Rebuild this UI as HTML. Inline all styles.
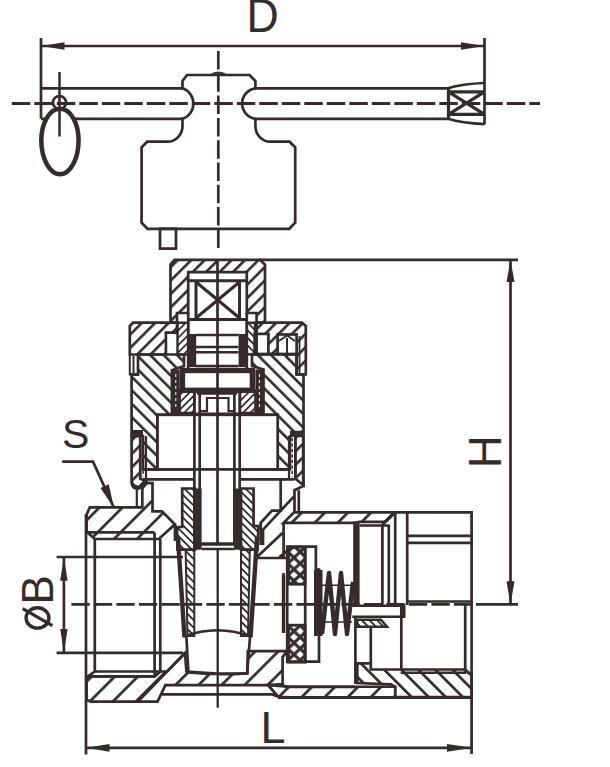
<!DOCTYPE html>
<html><head><meta charset="utf-8">
<style>
html,body{margin:0;padding:0;background:#fff;width:610px;height:767px;overflow:hidden}
svg{display:block}
text{font-family:"Liberation Sans",sans-serif;fill:#342b2a}
</style></head><body>
<svg width="610" height="767" viewBox="0 0 610 767">
<defs>
<pattern id="hf" patternUnits="userSpaceOnUse" x="4.3" width="9.5" height="10" patternTransform="rotate(45)"><rect x="0" y="0" width="2.6" height="10" fill="#342b2a"/></pattern>
<pattern id="hb" patternUnits="userSpaceOnUse" x="5.9" width="9.5" height="10" patternTransform="rotate(-45)"><rect x="0" y="0" width="2.6" height="10" fill="#342b2a"/></pattern>
<pattern id="hfw" patternUnits="userSpaceOnUse" x="4.0" width="16.3" height="10" patternTransform="rotate(45)"><rect x="0" y="0" width="2.7" height="10" fill="#342b2a"/></pattern>
<pattern id="hbw" patternUnits="userSpaceOnUse" x="1.8" width="12.06" height="10" patternTransform="rotate(-45)"><rect x="0" y="0" width="2.7" height="10" fill="#342b2a"/></pattern>
<pattern id="hs" patternUnits="userSpaceOnUse" width="5.2" height="10" patternTransform="rotate(45)"><rect x="0" y="0" width="1.7" height="10" fill="#342b2a"/></pattern>
<pattern id="hbs" patternUnits="userSpaceOnUse" width="5.4" height="10" patternTransform="rotate(-45)"><rect x="0" y="0" width="1.8" height="10" fill="#342b2a"/></pattern>
<pattern id="xh" patternUnits="userSpaceOnUse" width="12.2" height="11.6" x="287.9" y="551.9"><path d="M-1,-0.95 L13.2,12.55 M13.2,-0.95 L-1,12.55" stroke="#342b2a" stroke-width="3.1"/></pattern>
<pattern id="xh2" patternUnits="userSpaceOnUse" width="12.2" height="11.6" x="287.9" y="637.1"><path d="M-1,-0.95 L13.2,12.55 M13.2,-0.95 L-1,12.55" stroke="#342b2a" stroke-width="3.1"/></pattern>
</defs>
<g fill="none" stroke="#342b2a" stroke-width="2.7" stroke-linejoin="miter">
<line x1="41" y1="46" x2="484.5" y2="46" stroke-width="2.7"/>
<polygon points="41,46 64.5,42.3 64.5,49.7" fill="#342b2a" stroke="none"/>
<polygon points="484.5,46 461,42.3 461,49.7" fill="#342b2a" stroke="none"/>
<line x1="41" y1="38" x2="41" y2="118.5"/>
<line x1="484.5" y1="38" x2="484.5" y2="124.5"/>
<path d="M41,88.3 H183 M41,118.8 H183 M255,88.3 H448 M255,118.8 H448"/>
<path d="M448,88.3 Q462,83.8 484.5,83 M448,118.8 Q462,123 484.5,124.2"/>
<line x1="448.5" y1="88.3" x2="448.5" y2="118.8" stroke-width="3.2"/>
<path d="M448.5,91.8 H484.5 M448.5,114.3 H484.5 M448.5,91.8 L484.5,114.3 M448.5,114.3 L484.5,91.8" stroke-width="3.2"/>
<path d="M187,75 L249.5,75 L255.4,81 L255.4,88.3 A15.4,15.4 0 0 0 255.4,118.8 L255.4,126 A15,15.7 0 0 0 270.4,141.7 L289.5,141.7 L295.2,147.3 L295.2,222.8 L289.2,228.8 L147.5,228.8 L141.6,222.8 L141.6,147.3 L147.2,141.7 L167.5,141.7 A15,15.7 0 0 0 182.5,126 L182.5,118.8 A16.1,16.1 0 0 0 182.5,88.3 L182.5,81 Z"/>
<path d="M210.7,75 Q218.3,70 226.5,75" stroke-width="2"/>
<line x1="11.8" y1="103.5" x2="540" y2="103.5" stroke-width="2.9" stroke-dasharray="18.5 4"/>
<line x1="218.3" y1="51" x2="218.3" y2="249.5" stroke-dasharray="18.5 3.8"/>
<rect x="160" y="228.8" width="16" height="19.8"/>
<path d="M60,108.8 C70.5,108.8 78.6,123 78.6,140.5 C78.6,159 70,174.2 60,174.2 C50,174.2 41.3,159 41.3,140.5 C41.3,123 49.5,108.8 60,108.8 Z" fill="#fff" stroke-width="4.5"/>
<line x1="59.5" y1="72" x2="59.5" y2="136.5" stroke-width="2.5"/>
<circle cx="59.5" cy="102.5" r="6.5" stroke-width="2.7"/>
<line x1="259" y1="259.8" x2="518" y2="259.8" stroke-width="2.7"/>
<line x1="510.5" y1="260" x2="510.5" y2="604" stroke-width="2.7"/>
<polygon points="510.5,260 506.5,282 514.5,282" fill="#342b2a" stroke="none"/>
<polygon points="510.5,604.3 506.5,581.3 514.5,581.3" fill="#342b2a" stroke="none"/>
<line x1="476" y1="604.3" x2="518" y2="604.3" stroke-width="2.7"/>
<line x1="86" y1="514" x2="86" y2="754.5"/>

<line x1="86" y1="747.8" x2="471.8" y2="747.8" stroke-width="2.7"/>
<polygon points="86,747.8 109.5,743.9 109.5,751.7" fill="#342b2a" stroke="none"/>
<polygon points="471.8,747.8 447,743.9 447,751.7" fill="#342b2a" stroke="none"/>
<line x1="63.9" y1="557" x2="63.9" y2="652.7" stroke-width="2.7"/>
<polygon points="63.9,557 60.2,580.7 67.6,580.7" fill="#342b2a" stroke="none"/>
<polygon points="63.9,652.7 60.2,629 67.6,629" fill="#342b2a" stroke="none"/>
<line x1="56.6" y1="557" x2="183" y2="557" stroke-width="2.7"/>
<line x1="56.6" y1="652.8" x2="183" y2="652.8" stroke-width="2.7"/>
<line x1="71.4" y1="604.4" x2="471" y2="604.4" stroke-dasharray="18.3 4.2"/>
<polyline points="62.2,461.6 93,461.6 113.8,507.5" stroke-width="2.7"/>
<polygon points="114,508 100.5,488 108.8,484.2" fill="#342b2a" stroke="none"/>
<path d="M170.5,322.7 L170.5,264.5 L174.5,259.8 L260,259.8 L265,264.8 L265,322.7 L256.6,322.7 L256.6,313 L246.8,313 L246.8,272.2 L188.2,272.2 L188.2,313 L177,313 L177,322.7 Z" fill="url(#hf)" stroke="#342b2a" stroke-width="2.7"/>
<path d="M188.2,280.8 H246.8 M188.2,319.5 H246.8 M196,280.8 V319.5 M239.5,280.8 V319.5 M196,282 L239.5,318 M239.5,282 L196,318" stroke-width="3"/>
<path d="M188.2,313 V372 M246.8,313 V372"/>
<rect x="188" y="334" width="8.2" height="33" fill="#342b2a" stroke="none"/>
<rect x="238.6" y="334" width="8.2" height="33" fill="#342b2a" stroke="none"/>
<path d="M196,335 H238.6 M196,347 H238.6 M196,352.2 H238.6 M196,366 H238.6" stroke-width="2.6"/>
<path d="M177.5,322.7 L188.2,322.7 L188.2,354.5 L177.5,354.5 Z" fill="url(#hs)" stroke="#342b2a" stroke-width="2.4"/>
<path d="M246.8,322.7 L255,322.7 L255,354.5 L246.8,354.5 Z" fill="url(#hbs)" stroke="#342b2a" stroke-width="2.4"/>
<path d="M129.8,354.5 L129.8,326 L133,322.7 L177,322.7 L177,332.7 L165.9,332.7 L165.9,354.5 Z" fill="url(#hf)" stroke="#342b2a" stroke-width="2.7"/>
<path d="M256.6,322.7 L301.9,322.7 L305.8,326 L305.8,374.5 L296.6,374.5 L296.6,354.2 L254.7,354.2 L254.7,333.9 L256.6,333.9 Z" fill="url(#hf)" stroke="#342b2a" stroke-width="2.7"/>
<rect x="256.6" y="333.9" width="11.8" height="20.3" fill="#fff"/>
<rect x="277.6" y="334.5" width="19" height="19.7" fill="#fff"/>
<path d="M279,341 L287,335.5 L295,341 M287,338 V358" stroke-width="2"/>
<path d="M299.5,336 V374" stroke-width="1.8"/>
<path d="M129.8,354.5 V374.6 H138 V354.5 M133.5,356 V373" stroke-width="2"/>
<path d="M138,354.5 L184,354.5 L184,366 L171.9,370.3 L171.9,414.8 L157.5,414.8 L157.5,469.4 L143,469.4 L143,436 L131.6,436 L131.6,374.6 L138,374.6 Z" fill="url(#hb)" stroke="#342b2a" stroke-width="2.7"/>
<path d="M254.7,354.2 L296.6,354.2 L296.6,374.5 L303.5,374.5 L303.5,431 L290,436.5 L290,469.4 L277.7,469.4 L277.7,414.8 L263.5,414.8 L263.5,369.4 L252,366 L252,354.2 Z" fill="url(#hb)" stroke="#342b2a" stroke-width="2.7"/>
<path d="M131.6,436 L140.2,436 L140.2,478.7 L146,481.3 L139.6,487.8 L134,485.5 L131.6,482 Z" fill="url(#hf)" stroke="#342b2a" stroke-width="2.7"/>
<path d="M295.4,436 L303.2,436 L303.2,485 L295.4,478.7 Z" fill="url(#hf)" stroke="#342b2a" stroke-width="2.7"/>
<rect x="131" y="430" width="12" height="6" fill="#342b2a" stroke="none"/>
<rect x="290" y="430.8" width="13" height="5.7" fill="#342b2a" stroke="none"/>
<path d="M140.2,436 V479.3 M146,436 V479.3 M289,436 V479.3 M295.4,436 V479.3" stroke-width="2.2"/>
<path d="M143.1,438 V477 M292.2,438 V477" stroke-width="1.5" stroke-dasharray="3 2.5"/>
<path d="M303.5,431 V486 L294.5,490.2 V512.3 M298.8,490.2 V512.3" />
<path d="M143,469.4 H195 M143,479.3 H195 M239.7,469.4 H290 M239.7,479.3 H294.5"/>
<path d="M131.6,482 Q131.6,488.6 138,488.6 L146,483 H152.8" />
<path d="M280.7,479.3 V510.7 H272 L260.7,522.8 V545 M294,496.4 L263,529.7 V545" />
<rect x="171.9" y="369.8" width="7.8" height="44" fill="#342b2a" stroke="none"/>
<rect x="255.4" y="369.4" width="8.1" height="43.5" fill="#342b2a" stroke="none"/>
<path d="M175.8,374 V410 M259.4,374 V410" stroke="#fff" stroke-width="1" stroke-dasharray="3 3"/>
<rect x="182.4" y="370.5" width="70" height="19.8" stroke-width="5.4"/>
<path d="M179.7,390.5 L194.4,390.5 L194.4,413 L179.7,413 Z" fill="url(#hs)" stroke="#342b2a" stroke-width="2.4"/>
<path d="M240,390.5 L255.4,390.5 L255.4,413 L240,413 Z" fill="url(#hs)" stroke="#342b2a" stroke-width="2.4"/>
<path d="M171.9,414.2 H263.5" stroke-width="3.6"/>
<rect x="157.5" y="414.8" width="120.2" height="54.6" fill="#fff"/>
<path d="M194.4,390 V548 M239.7,390 V548 M199.7,393.5 V544.3 M234.4,393.5 V544.3 M217.5,259 V544.3"/>
<path d="M199.7,411.2 H207 V398 H228.5 V411.2 H234.4" stroke-width="2.2"/>
<path d="M197,393.5 H237 M199.7,544.3 H234.4"/>
<path d="M86.6,532.4 L86.6,514.7 L89.8,507.3 L142.3,507.3 L142.3,488.6 L146,483 L152.5,483 L152.5,511.4 L162,511.4 L175,524.5 L158.7,539 L94.8,539 L87.4,532.4 Z" fill="url(#hfw)" stroke="#342b2a" stroke-width="2.7"/>
<path d="M136.8,488.6 V507.3" stroke-width="2.2"/>
<path d="M175,524.5 V541" />
<path d="M87.4,532.4 H154.6 M94.8,539 V671.5 M154.6,532.4 V676.4 M160.3,539 V671.5 M94.8,671.5 H160.3 M87.9,676.4 H154.6 L160.3,671.5 M87.9,676.4 L94.8,671.5"/>
<path d="M86.6,700 L86.6,676.4 L154.6,676.4 L160.3,671.5 L167.1,671.5 L185,653 L186.4,671.5 L217,673.5 L247.2,673.4 L247.9,651.1 L287.2,651.1 L282.6,657 L282.6,684 L268.2,685.2 L165.4,685.2 L157.5,701.6 L91,701.6 Z" fill="url(#hfw)" stroke="#342b2a" stroke-width="2.7"/>
<path d="M185,653 L137.9,701.6" />
<path d="M161.5,694.4 H272 L278,696.6 M268.2,685.2 L278,696.6 M278,697.6 H471.8" />
<path d="M182.2,488.5 L195,488.5 L195,549.7 L177.5,549.7 L177,527 L182.2,527 Z" fill="url(#hbs)" stroke="#342b2a" stroke-width="2.7"/>
<path d="M241,488.5 L253.6,488.5 L253.6,526.2 L258.4,526.2 L257.5,549.7 L241,549.7 Z" fill="url(#hbs)" stroke="#342b2a" stroke-width="2.7"/>
<rect x="194.4" y="488.5" width="7.2" height="61.2" fill="#342b2a" stroke="none"/>
<rect x="234" y="488.5" width="7.2" height="61.2" fill="#342b2a" stroke="none"/>
<path d="M201.6,543.5 H234 M201.6,549 H234" stroke-width="2.4"/>
<path d="M185.6,549.7 L194.3,549.7 L194.3,636 L187.5,636 Z" fill="url(#hbs)" stroke="#342b2a" stroke-width="2.0"/>
<path d="M241,549.7 L249.8,549.7 L248,636 L241,636 Z" fill="url(#hbs)" stroke="#342b2a" stroke-width="2.0"/>
<path d="M178,538 L184.5,637.4 M257,538 L250.5,637.4" stroke-width="4.4"/>
<path d="M184.2,636.5 Q217,624 250.8,636.5" stroke-width="2.6"/>
<path d="M186.4,637 L188.4,672.5 Q217,675.5 247.2,673.4 L250,637"/>
<path d="M217.7,549 V707.7" stroke-width="2.3"/>
<path d="M294,512.3 L395.2,512.3 L385.5,521.9 L359.6,521.9 L353.2,522.8 L283.6,522.8 Z" fill="url(#hfw)" stroke="#342b2a" stroke-width="2.7"/>
<path d="M395.2,512.3 H471.6 V754"/>
<path d="M283.6,522.8 V557.6 M257.5,556.4 L282.5,533 M257.5,558 H288.5 M279.4,557.4 L287,551"/>
<path d="M283.5,573 V575"/>
<path d="M407.2,512.3 V605 M407.2,535.8 H471.8 M407.2,542.8 H471.8 M407.2,601.5 H471.8 M465.2,605 V670.8 L471.8,675"/>
<path d="M382.4,524.6 V605 M388.8,524.6 V605 M395.2,512.4 V605 M382.4,524.6 L395.2,512.4 M359.6,525.5 H388.8"/>
<path d="M356.4,522.8 V605.8" stroke-width="6.4"/>
<path d="M352.3,605.8 H404.3 V616.8 H352.3" stroke-width="2.4"/>
<rect x="400" y="605.8" width="5" height="11" fill="#342b2a" stroke="none"/>
<path d="M287.2,546.6 H315.9 V569.5 H319 V661.6 H287.2 Z"/>
<rect x="288.5" y="547.2" width="16.6" height="37" fill="url(#xh)" stroke-width="2.8"/>
<rect x="288.5" y="625.2" width="16.6" height="37" fill="url(#xh2)" stroke-width="2.8"/>
<path d="M305.2,546.6 V661.6"/>
<path d="M283.5,575 V633" stroke-width="3.4"/>
<rect x="314" y="570" width="8.5" height="66" fill="#342b2a" stroke="none"/>
<path d="M322,634 L329,573 L335,634 L341,573 L347,634 L353,582" stroke-width="4.4" stroke-linejoin="round"/>
<path d="M322,585.3 H352 M322,622 H352" stroke-width="1.6"/>
<path d="M355.4,616.8 V684 M370.8,626.7 V663.3 M401.3,605.8 V669.5"/>
<path d="M357.3,619.8 L381,619.8 L387,626.7 L357.3,626.7 Z" fill="url(#hbs)" stroke="#342b2a" stroke-width="2.4"/>
<path d="M357.3,663.3 L370.8,663.3 L370.8,669.5 L465.2,669.5 L471.6,675 L471.6,697.2 L395.2,697.2 L395.2,686.8 L390.8,684.3 L357.3,683 Z" fill="url(#hbw)" stroke="#342b2a" stroke-width="2.7"/>
<path d="M289,686.8 L395.2,686.8 L395.2,697.2 L290,697.2 L278,696.6 L268.2,685.2 Z" fill="url(#hfw)" stroke="#342b2a" stroke-width="2.4"/>
<path d="M400.7,672.8 H466" stroke-width="2.4"/>
<path d="M282.6,684 Q283,686.8 289,686.8 H354.6"/>
</g>
<text transform="translate(246.6,32) scale(0.94,1)" font-size="47.4">D</text>
<text x="260.5" y="742.5" font-size="45">L</text>
<text x="62" y="448.4" font-size="41">S</text>
<text transform="translate(500.8,468.3) rotate(-90)" font-size="45.5">H</text>
<text transform="translate(52.6,604.6) rotate(-90)" font-size="44">B</text>
<ellipse cx="37.5" cy="617.9" rx="11.4" ry="10.2" fill="none" stroke="#342b2a" stroke-width="3.4"/>
<line x1="22.7" y1="608.6" x2="52.4" y2="625.6" stroke="#342b2a" stroke-width="3.2"/>
</svg>
</body></html>
